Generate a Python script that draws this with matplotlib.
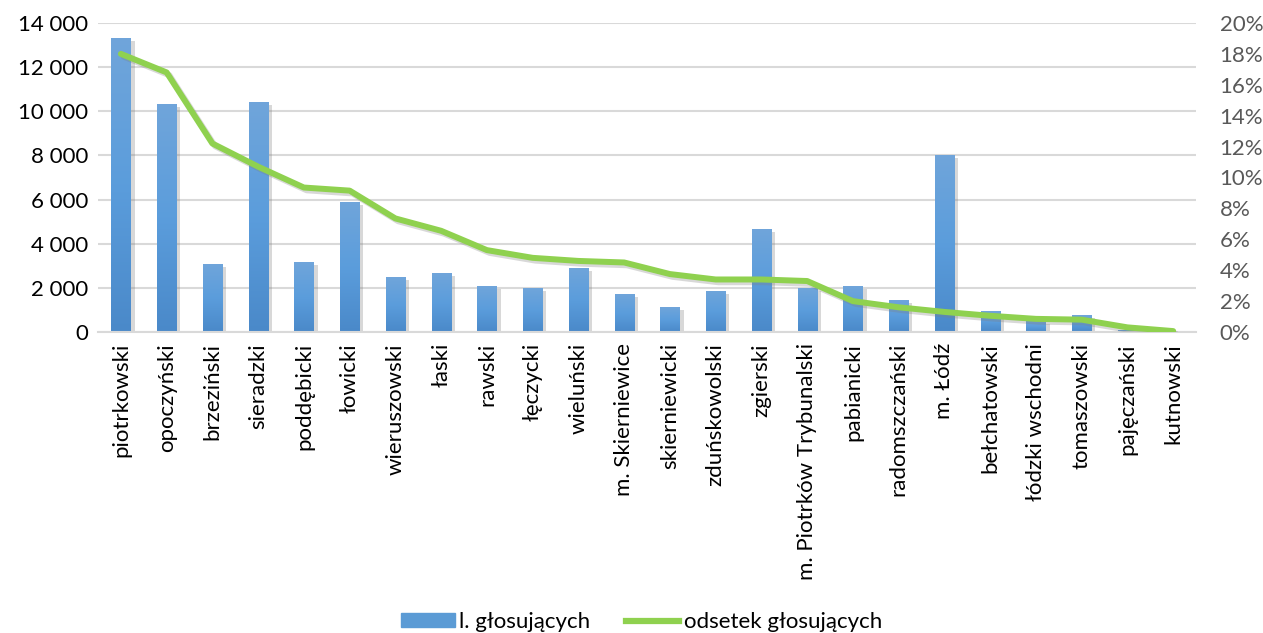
import numpy as np
import matplotlib
matplotlib.use('Agg')
import matplotlib.pyplot as plt
import matplotlib.patheffects as pe
from matplotlib.ticker import FuncFormatter

# --- data ---
powiaty = ['piotrkowski', 'opoczyński', 'brzeziński', 'sieradzki', 'poddębicki',
           'łowicki', 'wieruszowski', 'łaski', 'rawski', 'łęczycki', 'wieluński',
           'm. Skierniewice', 'skierniewicki', 'zduńskowolski', 'zgierski',
           'm. Piotrków Trybunalski', 'pabianicki', 'radomszczański', 'm. Łódź',
           'bełchatowski', 'łódzki wschodni', 'tomaszowski', 'pajęczański', 'kutnowski']
glosujacy = [13320, 10330, 3090, 10420, 3170, 5890, 2490, 2670, 2080, 1990, 2900,
             1720, 1130, 1860, 4670, 1990, 2080, 1450, 8020, 950, 480, 770, 110, 60]
odsetek = [18.0, 16.8, 12.2, 10.7, 9.35, 9.15, 7.35, 6.55, 5.3, 4.8, 4.6,
           4.5, 3.75, 3.4, 3.4, 3.3, 2.0, 1.6, 1.3, 1.05, 0.85, 0.8, 0.3, 0.06]

plt.rcParams['font.family'] = ['Lato', 'DejaVu Sans']
fs = 16

fig = plt.figure(figsize=(12.63, 6.33), dpi=100)
ax = fig.add_axes([0.0776, 0.4755, 0.8694, 0.4882])
x = np.arange(len(powiaty))

# bars with a soft shadow, then a vertical gradient clipped to each bar
bars = ax.bar(x, glosujacy, width=0.42, color='#5b9bd5', zorder=2,
              path_effects=[pe.SimplePatchShadow(offset=(3, -2), shadow_rgbFace='#7f7f7f', alpha=0.3),
                            pe.Normal()])
grad = np.linspace(0, 1, 256).reshape(-1, 1)
cmap = matplotlib.colors.LinearSegmentedColormap.from_list('g', ['#4a89c9', '#5b9ddc', '#70a5da'])
for b in bars:
    im = ax.imshow(grad, cmap=cmap, aspect='auto', origin='lower', zorder=2.5,
                   extent=[b.get_x(), b.get_x() + b.get_width(), 0, b.get_height()])
    im.set_clip_path(b)

ax.set_xlim(-0.5, len(powiaty) - 0.5)
ax.set_ylim(0, 14000)
ax.set_yticks(range(0, 14001, 2000))
ax.yaxis.set_major_formatter(FuncFormatter(lambda v, p: f'{int(v):,}'.replace(',', ' ')))
ax.grid(axis='y', color='#d9d9d9', linewidth=1.5, zorder=0)
ax.set_axisbelow(True)
for s in ['top', 'right', 'left']:
    ax.spines[s].set_visible(False)
ax.spines['bottom'].set_color('#d9d9d9')
ax.spines['bottom'].set_linewidth(1.5)
ax.set_xticks(x)
ax.set_xticklabels(powiaty, rotation=90)
ax.tick_params(axis='both', length=0, labelsize=fs, labelcolor='black')
ax.tick_params(axis='y', pad=7)
ax.tick_params(axis='x', pad=8)

# percentage line on the right axis
ax2 = ax.twinx()
ax2.plot(x, odsetek, color='#8fd14f', linewidth=4.3, solid_capstyle='round', zorder=3,
         path_effects=[pe.SimpleLineShadow(offset=(2, -2), shadow_color='#7f7f7f', alpha=0.3),
                       pe.Normal()])
ax2.set_ylim(0, 20)
ax2.set_yticks(range(0, 21, 2))
ax2.yaxis.set_major_formatter(FuncFormatter(lambda v, p: f'{int(v)}%'))
ax2.tick_params(axis='y', length=0, labelsize=fs, labelcolor='#595959', pad=17)
for s in ax2.spines.values():
    s.set_visible(False)

h1 = matplotlib.patches.Patch(color='#5b9bd5', label='l. głosujących')
h2 = matplotlib.lines.Line2D([], [], color='#8fd14f', linewidth=4.5, label='odsetek głosujących')
fig.legend(handles=[h1, h2], loc='center', bbox_to_anchor=(0.508, 0.017), ncol=2,
           frameon=False, fontsize=fs, labelcolor='black', handlelength=2.4,
           handleheight=0.6, handletextpad=0.2, columnspacing=1.6)

fig.savefig('out.png', dpi=100)
